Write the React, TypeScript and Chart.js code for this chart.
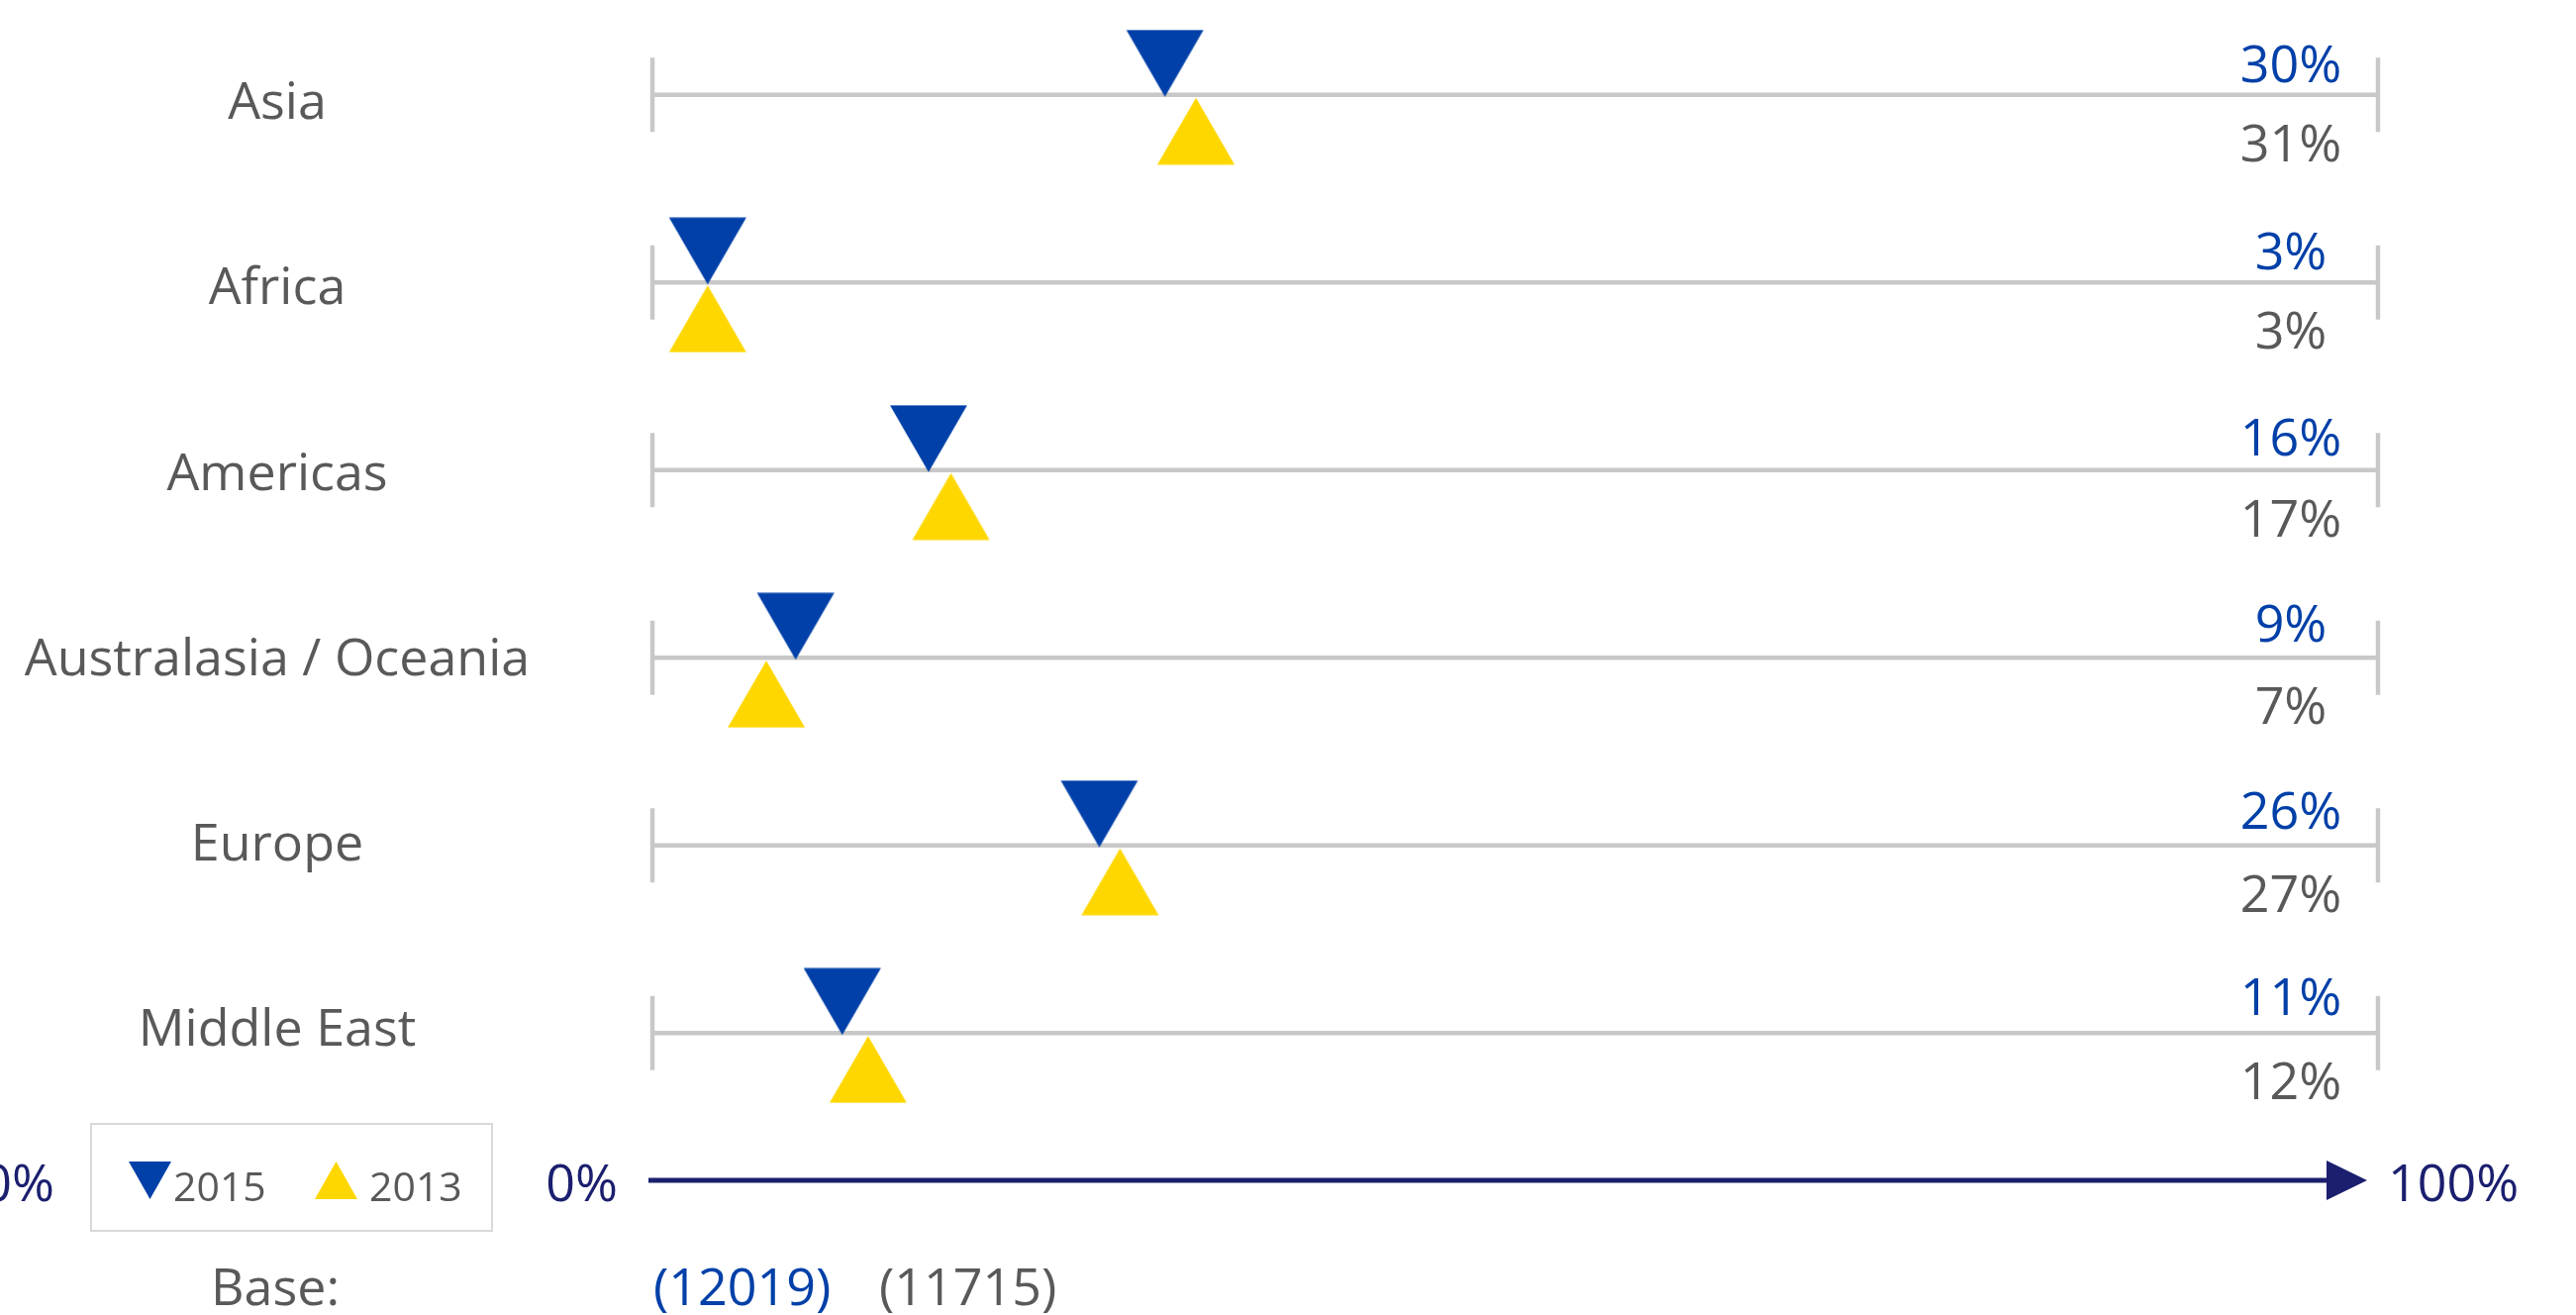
import React, { useEffect, useRef } from 'react';
import { Chart, registerables } from 'chart.js';

Chart.register(...registerables);

// ---------- data ----------
const categories = ['Asia', 'Africa', 'Americas', 'Australasia / Oceania', 'Europe', 'Middle East'];
const values2015 = [29.7, 3.2, 16.0, 8.3, 25.9, 11.0];
const values2013 = [31.5, 3.2, 17.3, 6.6, 27.1, 12.5];
const labels2015 = ['30%', '3%', '16%', '9%', '26%', '11%'];
const labels2013 = ['31%', '3%', '17%', '7%', '27%', '12%'];
const seriesNames = ['2015', '2013'];
const baseLabel = 'Base:';
const baseValues = ['(12019)', '(11715)'];
const axisMin = 0;
const axisMax = 100;
const axisTickLabels = ['0%', '100%'];

// ---------- style ----------
const FONT = '"Open Sans", "Noto Sans", sans-serif';
const GRAY_TEXT = '#595959';
const BLUE = '#0040A8';
const YELLOW = '#FFD700';
const LINE_GRAY = '#C8C8C8';
const NAVY = '#1B1F6E';
const LEGEND_BORDER = '#D9D9D9';

function makeTriangle(color: string, down: boolean): HTMLCanvasElement {
  const c = document.createElement('canvas');
  const half = 39;
  const h = 67.5;
  c.width = 80;
  c.height = down ? 132 : 142;
  const ctx = c.getContext('2d')!;
  const cx = 40;
  const cy = c.height / 2;
  ctx.fillStyle = color;
  ctx.beginPath();
  if (down) {
    ctx.moveTo(cx, cy + 2);
    ctx.lineTo(cx - half, cy + 2 - h);
    ctx.lineTo(cx + half, cy + 2 - h);
  } else {
    ctx.moveTo(cx, cy + 3);
    ctx.lineTo(cx - half, cy + 3 + h);
    ctx.lineTo(cx + half, cy + 3 + h);
  }
  ctx.closePath();
  ctx.fill();
  return c;
}

const overlayPlugin = {
  id: 'overlay',
  afterDatasetsDraw(chart: any) {
    const ctx = chart.ctx as CanvasRenderingContext2D;
    const xs = chart.scales.x;
    const ys = chart.scales.y;
    const x0 = xs.getPixelForValue(axisMin);
    const x100 = xs.getPixelForValue(axisMax);
    const band = ys.getPixelForValue(1) - ys.getPixelForValue(0);
    const first = ys.getPixelForValue(0);
    ctx.save();

    // category labels (text rows are spaced slightly tighter than the marker rows)
    ctx.font = `52px ${FONT}`;
    ctx.textBaseline = 'alphabetic';
    ctx.textAlign = 'center';
    ctx.fillStyle = GRAY_TEXT;
    categories.forEach((c, i) => {
      ctx.fillText(c, 280, first + 24.5 + i * band * 0.988);
    });

    // value labels
    categories.forEach((_, i) => {
      const y = ys.getPixelForValue(i);
      ctx.fillStyle = BLUE;
      ctx.fillText(labels2015[i], x100 - 88, y - 12.5 - i * 1.1);
      ctx.fillStyle = GRAY_TEXT;
      ctx.fillText(labels2013[i], x100 - 88, y + 67);
    });

    // bottom arrow axis
    const ay = 1192;
    const tip = x100 - 11;
    ctx.strokeStyle = NAVY;
    ctx.lineWidth = 5;
    ctx.beginPath();
    ctx.moveTo(x0 - 4, ay);
    ctx.lineTo(tip - 38, ay);
    ctx.stroke();
    ctx.fillStyle = NAVY;
    ctx.beginPath();
    ctx.moveTo(tip, ay);
    ctx.lineTo(tip - 41, ay - 20);
    ctx.lineTo(tip - 41, ay + 20);
    ctx.closePath();
    ctx.fill();

    ctx.fillStyle = NAVY;
    ctx.textAlign = 'right';
    ctx.fillText(axisTickLabels[0], x0 - 35, 1213);
    ctx.fillText(axisTickLabels[1], 55, 1213);
    ctx.textAlign = 'left';
    ctx.fillText(axisTickLabels[1], tip + 21, 1213);

    // legend box
    ctx.strokeStyle = LEGEND_BORDER;
    ctx.lineWidth = 2;
    ctx.strokeRect(92, 1135, 405, 108);
    ctx.fillStyle = BLUE;
    ctx.beginPath();
    ctx.moveTo(130, 1173);
    ctx.lineTo(173, 1173);
    ctx.lineTo(151.5, 1211);
    ctx.closePath();
    ctx.fill();
    ctx.fillStyle = YELLOW;
    ctx.beginPath();
    ctx.moveTo(318, 1211);
    ctx.lineTo(361, 1211);
    ctx.lineTo(339.5, 1173);
    ctx.closePath();
    ctx.fill();
    ctx.font = `41px ${FONT}`;
    ctx.fillStyle = GRAY_TEXT;
    ctx.textAlign = 'left';
    ctx.fillText(seriesNames[0], 175, 1213);
    ctx.fillText(seriesNames[1], 373, 1213);

    // base
    ctx.font = `52px ${FONT}`;
    ctx.textAlign = 'center';
    ctx.fillStyle = GRAY_TEXT;
    ctx.fillText(baseLabel, 278, 1318);
    ctx.textAlign = 'left';
    ctx.fillStyle = BLUE;
    ctx.fillText(baseValues[0], x0 + 1, 1318);
    ctx.fillStyle = GRAY_TEXT;
    ctx.fillText(baseValues[1], x0 + 229, 1318);

    ctx.restore();
  },
};

export default function App() {
  const ref = useRef<HTMLCanvasElement | null>(null);

  useEffect(() => {
    if (!ref.current) return;
    const blueTri = makeTriangle(BLUE, true);
    const yellowTri = makeTriangle(YELLOW, false);

    const rowLines = categories.map((c) => ({
      type: 'line' as const,
      label: c,
      data: [
        { x: axisMin, y: c },
        { x: axisMax, y: c },
      ],
      borderColor: LINE_GRAY,
      borderWidth: 4.5,
      pointStyle: 'line' as const,
      pointRotation: 90,
      pointRadius: 37.5,
      pointHoverRadius: 37.5,
      pointBorderWidth: 4.5,
      pointBorderColor: LINE_GRAY,
      pointBackgroundColor: LINE_GRAY,
      order: 2,
      clip: false as any,
    }));

    const chart = new Chart(ref.current, {
      type: 'line',
      data: {
        datasets: [
          {
            type: 'line',
            label: seriesNames[1],
            data: values2013.map((v, i) => ({ x: v, y: categories[i] })),
            showLine: false,
            pointStyle: yellowTri as any,
            pointRadius: 40,
            pointHoverRadius: 40,
            order: 0,
            clip: false as any,
          },
          {
            type: 'line',
            label: seriesNames[0],
            data: values2015.map((v, i) => ({ x: v, y: categories[i] })),
            showLine: false,
            pointStyle: blueTri as any,
            pointRadius: 40,
            pointHoverRadius: 40,
            order: 0,
            clip: false as any,
          },
          ...rowLines,
        ] as any,
      },
      options: {
        responsive: false,
        animation: false,
        events: [],
        devicePixelRatio: 1,
        layout: { autoPadding: false, padding: { left: 0, right: 200, top: 1, bottom: 190 } },
        scales: {
          x: { type: 'linear', min: axisMin, max: axisMax, display: false },
          y: {
            type: 'category',
            labels: categories,
            offset: true,
            grid: { display: false },
            border: { display: false },
            ticks: { display: false },
            afterFit: (scale: any) => {
              scale.width = 659;
            },
          },
        },
        plugins: {
          legend: { display: false },
          tooltip: { enabled: false },
        },
      },
      plugins: [overlayPlugin],
    });
    return () => chart.destroy();
  }, []);

  return (
    <div style={{ position: 'absolute', left: 0, top: 0, width: 2602, height: 1328, background: '#fff' }}>
      <canvas ref={ref} width={2602} height={1328} style={{ width: 2602, height: 1328, display: 'block' }} />
    </div>
  );
}
